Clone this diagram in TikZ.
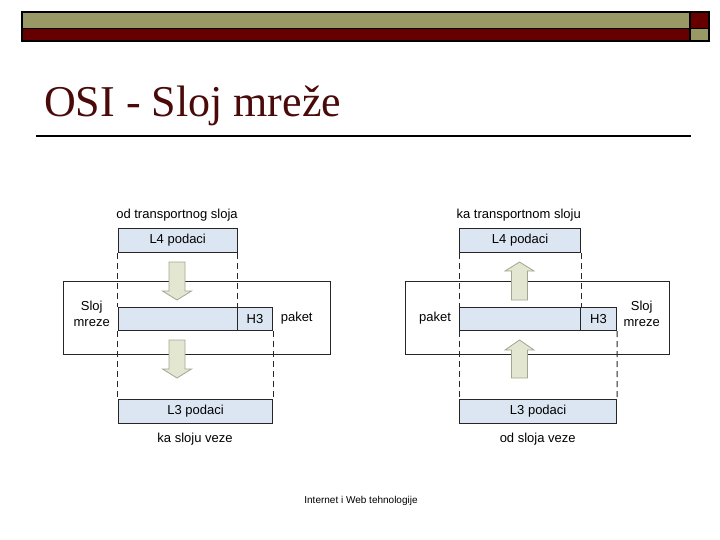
\documentclass[tikz,border=0pt]{standalone}
\usepackage{fontspec}
\setmainfont{Liberation Serif}
\newfontfamily\arialf{Liberation Sans}
\definecolor{olivebar}{HTML}{999966}
\definecolor{redbar}{HTML}{660000}
\definecolor{titlered}{HTML}{4A0A0A}
\definecolor{boxfill}{HTML}{DCE6F2}
\definecolor{boxline}{HTML}{262626}
\definecolor{arrfill}{HTML}{E3E7D2}
\definecolor{arrline}{HTML}{A3A58F}
\begin{document}
\begin{tikzpicture}[x=1pt,y=-1pt,
  lbl/.style={font=\arialf\fontsize{13}{15}\selectfont, inner sep=0pt},
  databox/.style={draw=boxline, line width=1pt, fill=boxfill, anchor=north west, inner sep=0pt, font=\arialf\fontsize{13}{15}\selectfont},
  layerbox/.style={draw=boxline, line width=1pt, fill=white, anchor=north west, inner sep=0pt},
  dashline/.style={draw=boxline, line width=1pt, dash pattern=on 6pt off 4pt},
  bigarrow/.style={draw=arrline, fill=arrfill, line width=0.8pt},
  barframe/.style={draw=black, line width=1.5pt}]
\useasboundingbox (0,0) rectangle (720,540);
% header bar
\fill[olivebar] (22,12) rectangle (690,28.5);
\fill[redbar] (690,12) rectangle (709,28.5);
\fill[redbar] (22,28.5) rectangle (690,41);
\fill[olivebar] (690,28.5) rectangle (709,41);
\draw[barframe] (22,12) rectangle (709,41);
\draw[barframe] (22,28.5) -- (709,28.5);
\draw[barframe] (690,12) -- (690,41);
% title
\node[anchor=base west, inner sep=0pt, text=titlered, font=\fontsize{44}{50}\selectfont] (title) at (44,117) {OSI - Sloj mreže};
\coordinate (rl) at (36,136.5);
\coordinate (rr) at (691,136.5);
\draw[line width=2pt] (rl) -- (rr);
% ===== left diagram =====
\node[layerbox, minimum width=267pt, minimum height=73pt] (outA) at (63,281) {};
\node[lbl, align=center] (slojA) at (91.7,314) {Sloj\\[1pt]mreze};
\node[lbl] (paketA) at (296.7,318.3) {paket};
\node[lbl] (topA) at (177,215) {od transportnog sloja};
\node[lbl] (botA) at (195,439) {ka sloju veze};
\node[databox, minimum width=119pt, minimum height=24pt] (l4A) at (117.7,228) {L4 podaci};
\node[databox, minimum width=119pt, minimum height=23pt] (pkA) at (117.7,307) {};
\node[databox, minimum width=35.6pt, minimum height=23pt] (h3A) at (236.7,307) {H3};
\node[databox, minimum width=154.6pt, minimum height=24pt] (l3A) at (117.7,399) {L3 podaci};
\draw[dashline] (l4A.south west) -- (pkA.north west);
\draw[dashline] (pkA.south west) -- (l3A.north west);
\draw[dashline] (l4A.south east) -- (pkA.north east);
\draw[dashline] (h3A.south east) -- (l3A.north east);
\draw[bigarrow] (169,262) -- (185,262) -- (185,291) -- (191.5,291) -- (177,300) -- (162.5,291) -- (169,291) -- cycle;
\draw[bigarrow] (169,340) -- (185,340) -- (185,369) -- (191.5,369) -- (177,378) -- (162.5,369) -- (169,369) -- cycle;
% ===== right diagram =====
\node[layerbox, minimum width=264pt, minimum height=73pt] (outB) at (405,281) {};
\node[lbl, align=center] (slojB) at (641.7,314) {Sloj\\[1pt]mreze};
\node[lbl] (paketB) at (435,318.3) {paket};
\node[lbl] (topB) at (518.7,215) {ka transportnom sloju};
\node[lbl] (botB) at (537.7,439) {od sloja veze};
\node[databox, minimum width=120.7pt, minimum height=24pt] (l4B) at (459.3,228) {L4 podaci};
\node[databox, minimum width=120.7pt, minimum height=23pt] (pkB) at (459.3,307) {};
\node[databox, minimum width=36pt, minimum height=23pt] (h3B) at (580,307) {H3};
\node[databox, minimum width=156.7pt, minimum height=24pt] (l3B) at (459.3,399) {L3 podaci};
\draw[dashline] (l4B.south west) -- (pkB.north west);
\draw[dashline] (pkB.south west) -- (l3B.north west);
\draw[dashline] (l4B.south east) -- (pkB.north east);
\draw[dashline] (h3B.south east) -- (l3B.north east);
\draw[bigarrow] (511.5,300) -- (527.5,300) -- (527.5,271) -- (534,271) -- (519.5,262) -- (505,271) -- (511.5,271) -- cycle;
\draw[bigarrow] (511.5,378) -- (527.5,378) -- (527.5,350) -- (534,350) -- (519.5,340) -- (505,350) -- (511.5,350) -- cycle;
% footer
\node[inner sep=0pt, font=\arialf\fontsize{10}{12}\selectfont] (foot) at (361,501) {Internet i Web tehnologije};
\end{tikzpicture}
\end{document}
